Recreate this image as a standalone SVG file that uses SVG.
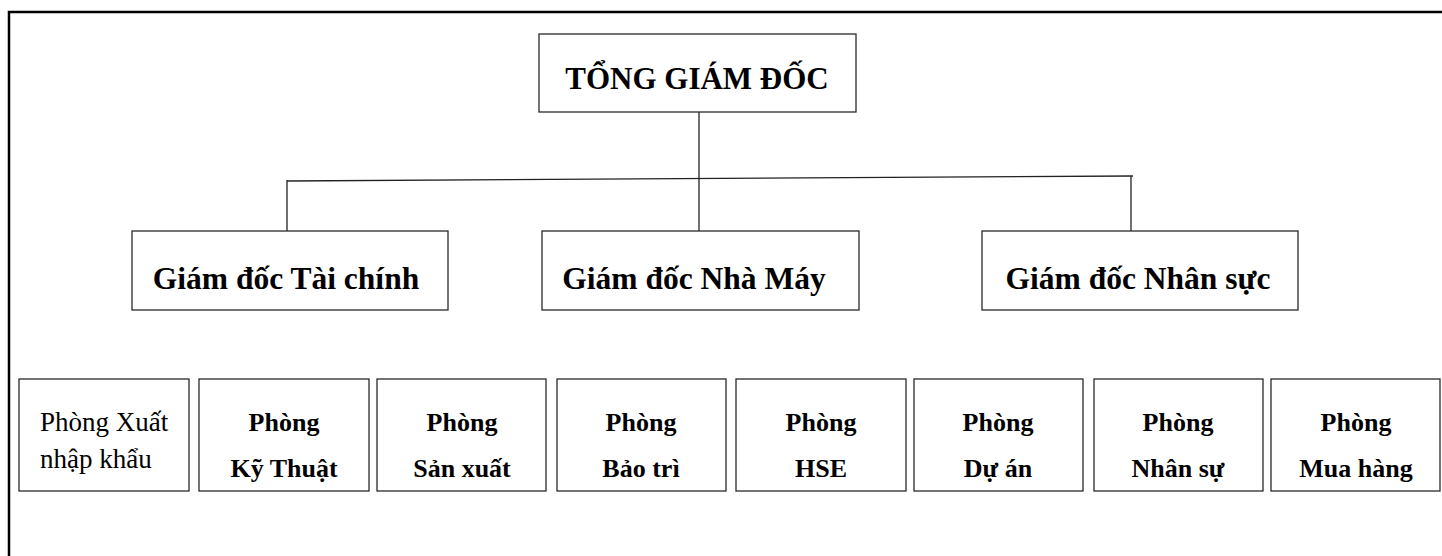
<svg xmlns="http://www.w3.org/2000/svg" width="1442" height="556" viewBox="0 0 1442 556">
  <style>
    .frame { fill: none; stroke: #000; stroke-width: 2.5; }
    .box { fill: #fff; stroke: #2a2a2a; stroke-width: 1.3; }
    .link { fill: none; stroke: #222; stroke-width: 1.3; }
    text { font-family: "Liberation Serif", "Times New Roman", serif; fill: #000; text-anchor: middle; }
    .top { font-size: 31px; font-weight: bold; }
    .mid { font-size: 31.5px; font-weight: bold; }
    .dept { font-size: 26px; font-weight: bold; }
    .dept-r { font-size: 27px; font-weight: normal; text-anchor: start; }
  </style>
  <rect width="1442" height="556" fill="#fff"/>

  <!-- outer page frame, open towards right and bottom -->
  <path class="frame" d="M9,560 V12 H1450"/>

  <!-- connectors -->
  <g id="connectors">
    <line class="link" x1="699" y1="112" x2="699" y2="231"/>
    <line class="link" x1="287" y1="181" x2="1133" y2="176"/>
    <line class="link" x1="287" y1="180" x2="287" y2="231"/>
    <line class="link" x1="1131" y1="176" x2="1131" y2="231"/>
  </g>

  <!-- top level -->
  <g id="tong-giam-doc">
    <rect class="box" x="539" y="34" width="317" height="78"/>
    <text class="top" x="697" y="89">TỔNG GIÁM ĐỐC</text>
  </g>

  <!-- directors -->
  <g id="gd-tai-chinh">
    <rect class="box" x="132" y="231" width="316" height="79"/>
    <text class="mid" x="286" y="289">Giám đốc Tài chính</text>
  </g>
  <g id="gd-nha-may">
    <rect class="box" x="542" y="231" width="317" height="79"/>
    <text class="mid" x="694" y="289">Giám đốc Nhà Máy</text>
  </g>
  <g id="gd-nhan-su">
    <rect class="box" x="982" y="231" width="316" height="79"/>
    <text class="mid" x="1138" y="289">Giám đốc Nhân sực</text>
  </g>

  <!-- departments -->
  <g id="p-xuat-nhap-khau">
    <rect class="box" x="19" y="379" width="170" height="112"/>
    <text class="dept-r" x="40" y="431">Phòng Xuất</text>
    <text class="dept-r" x="40" y="468">nhập khẩu</text>
  </g>
  <g id="p-ky-thuat">
    <rect class="box" x="199" y="379" width="170" height="112"/>
    <text class="dept" x="284" y="431">Phòng</text>
    <text class="dept" x="284" y="477">Kỹ Thuật</text>
  </g>
  <g id="p-san-xuat">
    <rect class="box" x="377" y="379" width="169" height="112"/>
    <text class="dept" x="462" y="431">Phòng</text>
    <text class="dept" x="462" y="477">Sản xuất</text>
  </g>
  <g id="p-bao-tri">
    <rect class="box" x="557" y="379" width="169" height="112"/>
    <text class="dept" x="641" y="431">Phòng</text>
    <text class="dept" x="641" y="477">Bảo trì</text>
  </g>
  <g id="p-hse">
    <rect class="box" x="736" y="379" width="170" height="112"/>
    <text class="dept" x="821" y="431">Phòng</text>
    <text class="dept" x="821" y="477">HSE</text>
  </g>
  <g id="p-du-an">
    <rect class="box" x="914" y="379" width="169" height="112"/>
    <text class="dept" x="998" y="431">Phòng</text>
    <text class="dept" x="998" y="477">Dự án</text>
  </g>
  <g id="p-nhan-su">
    <rect class="box" x="1094" y="379" width="169" height="112"/>
    <text class="dept" x="1178" y="431">Phòng</text>
    <text class="dept" x="1178" y="477">Nhân sự</text>
  </g>
  <g id="p-mua-hang">
    <rect class="box" x="1271" y="379" width="169" height="112"/>
    <text class="dept" x="1356" y="431">Phòng</text>
    <text class="dept" x="1356" y="477">Mua hàng</text>
  </g>
</svg>
